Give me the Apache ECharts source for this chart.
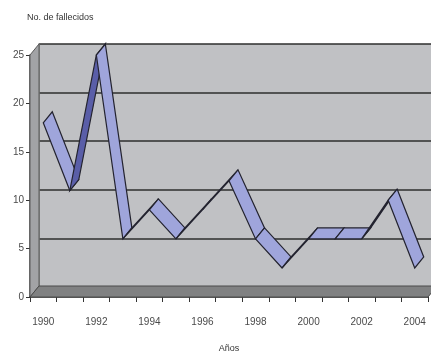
<!DOCTYPE html>
<html>
<head>
<meta charset="utf-8">
<style>
  html, body { margin: 0; padding: 0; background: #ffffff; }
  #chart { width: 431px; height: 358px; }
</style>
<script src="https://cdn.jsdelivr.net/npm/echarts@6/dist/echarts.min.js"></script>
</head>
<body>
<div id="chart"></div>
<script>
// Deaths per year
const years = ['1990', '1991', '1992', '1993', '1994', '1995', '1996', '1997',
               '1998', '1999', '2000', '2001', '2002', '2003', '2004'];
const deaths = [18, 11, 25, 6, 9, 6, 9, 12, 6, 3, 6, 6, 6, 10, 3];
const yMin = 0;
const yMax = 25;
const yStep = 5;

// Depth of the pseudo-3D box (screen offset from front plane to back wall)
const DX = 9;
const DY = -11;
const FONT = '"Liberation Sans Narrow", "Liberation Sans", Arial, sans-serif';

const chart = echarts.init(document.getElementById('chart'), null, { renderer: 'canvas' });

// Walls and floor of the box, drawn from the front grid's rectangle
function renderFrame(params, api) {
  const cs = params.coordSys;
  const x = cs.x, y = cs.y, w = cs.width, h = cs.height;
  return {
    type: 'group',
    children: [
      {
        type: 'polygon',
        shape: { points: [[x, y], [x + DX, y + DY], [x + DX, y + h + DY], [x, y + h]] },
        style: { fill: '#a2a3a6', stroke: '#5a5a5a', lineWidth: 1 }
      },
      {
        type: 'polygon',
        shape: { points: [[x, y + h], [x + DX, y + h + DY], [x + w + DX, y + h + DY], [x + w, y + h]] },
        style: { fill: '#808182', stroke: '#4a4a4a', lineWidth: 1 }
      }
    ]
  };
}

// One ribbon face between consecutive years
function renderRibbon(params, api) {
  const i = api.value(0);
  if (i >= deaths.length - 1) return null;
  const p1 = api.coord([i, deaths[i]]);
  const p2 = api.coord([i + 1, deaths[i + 1]]);
  const sx = p2[0] - p1[0], sy = p2[1] - p1[1];
  const cross = sx * DY - sy * DX;
  const fill = cross < 0 ? '#9fa5db' : '#5a5ea8';
  return {
    type: 'polygon',
    shape: {
      points: [p1, p2, [p2[0] + DX, p2[1] + DY], [p1[0] + DX, p1[1] + DY]]
    },
    style: { fill: fill, stroke: '#23232f', lineWidth: 1.2 }
  };
}

const option = {
  animation: false,
  backgroundColor: '#ffffff',
  title: {
    text: 'No. de fallecidos',
    left: 22,
    top: 8,
    textStyle: { fontFamily: FONT, fontSize: 9, fontWeight: 'normal', color: '#333' }
  },
  grid: [
    { left: 30, right: 3, top: 55, bottom: 60, containLabel: false },
    { left: 30 + DX, right: 0, top: 55 + DY, bottom: 60 - DY, containLabel: false,
      show: true, backgroundColor: '#c0c1c4', borderWidth: 0 }
  ],
  xAxis: [
    {
      type: 'category',
      gridIndex: 0,
      data: years,
      boundaryGap: true,
      name: 'Años',
      nameLocation: 'middle',
      nameGap: 47,
      nameTextStyle: { fontFamily: FONT, fontSize: 9, color: '#333' },
      axisLine: { show: true, lineStyle: { color: '#2a2a2a', width: 1.5 } },
      axisTick: { show: true, length: 5, interval: 0, lineStyle: { color: '#333' } },
      axisLabel: { interval: 1, margin: 20, fontFamily: FONT, fontSize: 10, color: '#4a4a4a' },
      splitLine: { show: false }
    },
    {
      type: 'category',
      gridIndex: 1,
      data: years,
      show: false
    }
  ],
  yAxis: [
    {
      type: 'value',
      gridIndex: 0,
      min: yMin,
      max: yMax,
      interval: yStep,
      axisLine: { show: true, lineStyle: { color: '#444', width: 1.5 } },
      axisTick: { show: true, length: 4, lineStyle: { color: '#333' } },
      axisLabel: { margin: 6, fontFamily: FONT, fontSize: 10, color: '#4a4a4a' },
      splitLine: { show: false }
    },
    {
      type: 'value',
      gridIndex: 1,
      min: yMin,
      max: yMax,
      interval: yStep,
      axisLine: { show: true, lineStyle: { color: '#777', width: 1.5 } },
      axisTick: { show: false },
      axisLabel: { show: false },
      splitLine: { show: true, lineStyle: { color: '#2e2e2e', width: 1.6 } }
    }
  ],
  series: [
    {
      type: 'custom',
      name: 'frame',
      xAxisIndex: 0,
      yAxisIndex: 0,
      z: 1,
      silent: true,
      data: [[0, 0]],
      renderItem: renderFrame
    },
    {
      type: 'custom',
      name: 'No. de fallecidos',
      xAxisIndex: 0,
      yAxisIndex: 0,
      z: 3,
      clip: false,
      data: deaths.map(function (v, i) { return [i, v]; }),
      renderItem: renderRibbon
    }
  ]
};

chart.setOption(option);
</script>
</body>
</html>
